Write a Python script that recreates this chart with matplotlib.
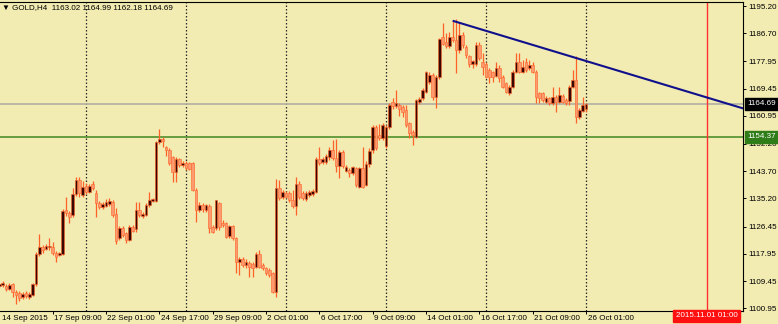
import numpy as np
import matplotlib
matplotlib.use('Agg')
import matplotlib.pyplot as plt
import matplotlib.transforms as mtransforms

# GOLD H4 candles, bar 0 = 14 Sep 2015 17:00, last bar = 26 Oct 01:00
opens = [
    1108.0, 1108.2, 1107.9, 1107.0, 1108.5, 1106.1, 1105.8, 1104.4, 1105.6, 1104.6,
    1105.1, 1108.5, 1117.8, 1120.0, 1119.6, 1120.0, 1120.2, 1118.3, 1117.6, 1117.9,
    1131.5, 1130.6, 1130.0, 1136.6, 1141.0, 1136.3, 1139.0, 1137.3, 1139.7, 1136.8,
    1133.9, 1132.7, 1133.0, 1133.5, 1134.0, 1130.3, 1122.8, 1125.9, 1124.3, 1122.3,
    1126.2, 1125.6, 1131.6, 1129.6, 1130.1, 1133.2, 1134.5, 1134.5, 1152.9, 1153.9,
    1151.1, 1150.3, 1148.0, 1143.6, 1147.4, 1145.6, 1146.2, 1146.4, 1146.2, 1137.9,
    1131.6, 1133.2, 1131.6, 1132.9, 1126.4, 1125.9, 1133.7, 1127.7, 1127.5, 1123.5,
    1126.6, 1122.8, 1115.3, 1116.3, 1114.5, 1115.2, 1114.8, 1113.9, 1117.9, 1114.5,
    1113.4, 1112.9, 1111.9, 1106.1, 1138.4, 1135.7, 1136.8, 1136.8, 1134.7, 1132.9,
    1139.7, 1137.0, 1135.0, 1136.3, 1136.6, 1137.3, 1147.4, 1146.7, 1146.7, 1148.2,
    1150.3, 1147.7, 1145.3, 1149.8, 1143.9, 1144.1, 1143.0, 1144.6, 1138.9, 1144.6,
    1139.5, 1146.0, 1150.2, 1157.5, 1155.0, 1154.0, 1151.5, 1157.6, 1165.4, 1163.9,
    1164.3, 1163.6, 1162.8, 1158.6, 1156.0, 1154.5, 1165.3, 1166.4, 1168.5, 1171.6,
    1173.7, 1166.9, 1173.2, 1185.5, 1184.1, 1182.7, 1185.6, 1184.6, 1181.5, 1186.2,
    1182.5, 1179.5, 1177.0, 1177.0, 1183.0, 1177.8, 1177.1, 1175.3, 1174.5, 1173.4,
    1175.8, 1173.2, 1171.1, 1168.0, 1170.1, 1174.7, 1177.8, 1174.7, 1177.8, 1175.8,
    1176.8, 1174.7, 1168.0, 1168.0, 1165.4, 1166.4, 1164.9, 1166.9, 1165.4, 1167.2,
    1165.9, 1165.5, 1170.1, 1172.1, 1160.5, 1162.6, 1163.02,
]
highs = [
    1109.0, 1109.6, 1108.6, 1108.8, 1109.0, 1106.8, 1106.5, 1105.9, 1106.4, 1106.0,
    1109.0, 1118.5, 1124.1, 1120.8, 1121.0, 1123.0, 1121.5, 1118.8, 1118.6, 1132.0,
    1135.6, 1131.2, 1138.4, 1141.8, 1142.0, 1140.5, 1140.0, 1139.8, 1140.6, 1138.0,
    1134.5, 1134.2, 1135.0, 1135.3, 1134.8, 1132.1, 1126.5, 1126.5, 1124.8, 1127.0,
    1127.0, 1134.2, 1134.2, 1131.0, 1133.8, 1137.3, 1135.5, 1153.2, 1156.8, 1154.5,
    1151.5, 1150.8, 1148.5, 1148.0, 1147.9, 1146.9, 1146.9, 1146.7, 1146.7, 1138.4,
    1134.2, 1133.7, 1133.5, 1133.6, 1127.0, 1134.8, 1134.2, 1128.5, 1128.0, 1127.0,
    1127.0, 1123.3, 1117.0, 1117.0, 1116.2, 1115.8, 1115.3, 1118.6, 1119.1, 1115.0,
    1113.9, 1113.4, 1112.4, 1141.2, 1141.0, 1138.0, 1137.5, 1137.5, 1137.8, 1141.8,
    1140.5, 1137.5, 1137.5, 1137.8, 1138.2, 1148.2, 1151.3, 1148.0, 1149.0, 1151.3,
    1153.4, 1153.6, 1150.3, 1150.3, 1145.6, 1144.6, 1145.4, 1145.1, 1145.1, 1151.3,
    1147.0, 1151.0, 1158.2, 1158.1, 1158.5, 1158.6, 1158.2, 1164.9, 1166.4, 1169.0,
    1165.0, 1164.2, 1164.3, 1159.0, 1156.5, 1166.3, 1166.8, 1169.5, 1174.9, 1174.5,
    1174.3, 1173.8, 1185.1, 1189.8, 1186.7, 1187.2, 1190.7, 1191.0, 1190.3, 1187.2,
    1183.0, 1180.0, 1178.5, 1184.1, 1184.0, 1180.4, 1177.8, 1175.8, 1175.0, 1177.8,
    1176.8, 1173.7, 1171.6, 1170.6, 1175.2, 1180.4, 1180.4, 1178.4, 1178.9, 1178.4,
    1177.8, 1175.2, 1168.5, 1168.5, 1167.0, 1166.9, 1170.1, 1167.4, 1170.1, 1167.8,
    1166.4, 1170.6, 1175.3, 1179.6, 1163.5, 1166.9, 1164.99,
]
lows = [
    1107.2, 1107.7, 1106.4, 1106.6, 1104.6, 1102.3, 1103.2, 1103.8, 1104.2, 1104.0,
    1104.8, 1107.9, 1117.2, 1118.2, 1119.0, 1119.2, 1117.5, 1115.5, 1117.2, 1117.5,
    1129.8, 1127.5, 1129.4, 1136.0, 1135.8, 1135.6, 1136.5, 1136.8, 1138.0, 1129.5,
    1131.8, 1132.0, 1132.5, 1133.0, 1129.5, 1121.0, 1122.3, 1123.3, 1121.4, 1121.8,
    1124.8, 1124.9, 1129.5, 1129.0, 1129.6, 1132.6, 1134.0, 1134.0, 1152.2, 1151.4,
    1148.5, 1145.6, 1140.4, 1140.4, 1145.0, 1145.0, 1144.0, 1144.1, 1137.5, 1128.0,
    1131.1, 1131.1, 1131.1, 1124.3, 1124.3, 1125.4, 1125.4, 1126.2, 1122.8, 1123.0,
    1122.3, 1111.9, 1111.4, 1113.8, 1113.5, 1110.8, 1110.8, 1113.4, 1113.4, 1112.9,
    1111.4, 1110.8, 1105.6, 1104.4, 1134.6, 1135.0, 1135.2, 1134.0, 1132.1, 1130.0,
    1135.0, 1134.6, 1134.5, 1135.8, 1136.1, 1136.8, 1145.6, 1146.0, 1146.0, 1147.2,
    1147.2, 1143.6, 1141.5, 1144.8, 1143.4, 1142.0, 1142.5, 1138.9, 1138.4, 1138.4,
    1139.0, 1145.0, 1149.5, 1150.3, 1153.3, 1153.5, 1151.0, 1157.0, 1163.2, 1163.4,
    1160.8, 1160.7, 1157.6, 1154.0, 1152.0, 1154.0, 1164.5, 1165.8, 1168.0, 1171.0,
    1165.9, 1163.3, 1172.5, 1183.0, 1182.0, 1182.2, 1184.0, 1174.2, 1180.5, 1182.0,
    1179.0, 1176.3, 1176.0, 1176.5, 1178.5, 1173.7, 1172.7, 1171.1, 1171.5, 1173.0,
    1171.6, 1169.5, 1168.0, 1167.5, 1169.6, 1174.2, 1174.2, 1174.2, 1174.7, 1175.3,
    1174.2, 1164.9, 1164.9, 1165.4, 1164.9, 1164.3, 1164.4, 1162.3, 1164.9, 1164.9,
    1164.4, 1164.4, 1169.6, 1158.6, 1160.0, 1162.1, 1162.18,
]
closes = [
    1108.5, 1108.9, 1106.9, 1108.2, 1105.9, 1105.1, 1104.1, 1105.3, 1104.8, 1105.3,
    1108.5, 1117.8, 1120.2, 1119.0, 1120.5, 1120.4, 1118.3, 1117.1, 1118.1, 1131.4,
    1130.6, 1129.5, 1136.6, 1141.0, 1136.8, 1138.9, 1137.3, 1139.1, 1138.4, 1133.7,
    1132.7, 1133.5, 1134.2, 1134.5, 1130.1, 1121.8, 1125.9, 1123.8, 1122.3, 1126.2,
    1125.2, 1131.6, 1130.1, 1130.5, 1133.2, 1134.7, 1135.0, 1152.9, 1153.9, 1153.2,
    1150.3, 1146.2, 1143.6, 1147.4, 1145.6, 1146.4, 1144.6, 1144.3, 1137.9, 1131.6,
    1133.2, 1131.8, 1133.2, 1125.9, 1124.9, 1134.7, 1126.4, 1127.0, 1123.3, 1126.6,
    1122.8, 1115.5, 1116.3, 1114.5, 1115.5, 1113.9, 1113.4, 1117.9, 1113.9, 1113.4,
    1111.9, 1111.3, 1106.1, 1138.4, 1135.2, 1137.3, 1135.8, 1134.7, 1132.9, 1139.7,
    1135.6, 1135.2, 1137.0, 1137.3, 1137.6, 1147.4, 1146.2, 1147.4, 1148.4, 1150.3,
    1147.7, 1145.3, 1149.8, 1145.3, 1145.1, 1143.0, 1144.9, 1139.4, 1144.6, 1138.9,
    1146.0, 1150.0, 1157.5, 1151.0, 1154.0, 1158.1, 1157.6, 1164.3, 1163.9, 1165.0,
    1163.0, 1162.2, 1158.1, 1155.5, 1155.0, 1165.9, 1166.1, 1169.0, 1174.7, 1173.7,
    1166.9, 1173.2, 1184.8, 1183.5, 1182.7, 1185.6, 1184.6, 1181.5, 1186.2, 1183.0,
    1180.0, 1177.0, 1178.0, 1183.0, 1178.9, 1176.3, 1173.2, 1173.2, 1173.0, 1175.8,
    1172.7, 1170.1, 1168.5, 1170.1, 1174.7, 1177.8, 1174.7, 1176.3, 1175.2, 1176.8,
    1174.7, 1166.9, 1166.4, 1165.9, 1166.4, 1164.9, 1166.9, 1165.4, 1167.5, 1165.4,
    1164.9, 1170.1, 1172.1, 1160.7, 1162.8, 1164.3, 1164.69,
]

time_labels = ['14 Sep 2015', '17 Sep 09:00', '22 Sep 01:00', '24 Sep 17:00',
               '29 Sep 09:00', '2 Oct 01:00', '6 Oct 17:00', '9 Oct 09:00',
               '14 Oct 01:00', '16 Oct 17:00', '21 Oct 09:00', '26 Oct 01:00']
label_bars = [0, 16, 32, 48, 64, 80, 96, 112, 128, 144, 160, 176]
week_bars = [26, 56, 86, 116, 146, 176]
price_ticks = [1100.95, 1109.45, 1117.95, 1126.45, 1135.20, 1143.70,
               1152.20, 1160.95, 1169.45, 1177.95, 1186.70, 1195.20]
level_price = 1154.37
trend_start = (136, 1190.6)
trend_end = (173, 1179.0)
future_bar = 212.2
future_label = '2015.11.01 01:00'

BG = '#f2ebb2'
WICK = '#ff6228'
BULL = '#3a0600'
BEAR = '#fc9a70'
FONT = ['Liberation Sans', 'DejaVu Sans']
FS = 5.8

o = np.array(opens); h = np.array(highs); l = np.array(lows); c = np.array(closes)
x = np.arange(len(o))

fig = plt.figure(figsize=(7.78, 3.24), dpi=100, facecolor=BG)
ax = fig.add_axes([0, 13 / 324, 743 / 778, 309 / 324], facecolor=BG)

# candles
ax.vlines(x, l, h, color=WICK, lw=0.9, zorder=2)
body_lo = np.minimum(o, c)
body_h = np.maximum(np.abs(c - o), 0.15)
cols = np.where(c >= o, BULL, BEAR)
ax.bar(x, body_h, bottom=body_lo, width=0.8, color=cols, edgecolor=WICK,
       linewidth=0.4, zorder=3)

# week separators, levels, trend line
for wb in week_bars:
    ax.axvline(wb, color='#2a2a2a', lw=0.9, ls=(0, (1.2, 1.6)), zorder=1)
ax.axhline(c[-1], color='#b0b0a4', lw=1.2, zorder=1)
ax.axhline(level_price, color='#4f8f2c', lw=1.2, zorder=1)
ax.axvline(future_bar, color='#ff3030', lw=1.0, zorder=1)

slope = (trend_end[1] - trend_start[1]) / (trend_end[0] - trend_start[0])
x_end = 230
ax.plot([trend_start[0], x_end],
        [trend_start[1], trend_start[1] + slope * (x_end - trend_start[0])],
        color='#10108c', lw=1.5, zorder=4, solid_capstyle='butt')

ax.set_xlim(0.2, 223.1)
ax.set_ylim(1100.13, 1196.45)

for s in ['top', 'right', 'bottom']:
    ax.spines[s].set_color('black')
    ax.spines[s].set_linewidth(0.8)
ax.spines['left'].set_visible(False)

ax.yaxis.tick_right()
ax.set_yticks(price_ticks)
ax.set_yticklabels([f'{p:.2f}' for p in price_ticks])
ax.tick_params(axis='y', direction='out', length=2.2, width=0.7, pad=1.5,
               labelsize=FS, colors='black')

ax.set_xticks(label_bars[1:])
ax.set_xticklabels(time_labels[1:])
ax.tick_params(axis='x', direction='out', length=2.2, width=0.7, pad=0.8,
               labelsize=FS, colors='black')
shift = mtransforms.ScaledTranslation(1.5 / 100, 0, fig.dpi_scale_trans)
for lbl in ax.get_xticklabels() + ax.get_yticklabels():
    lbl.set_fontfamily(FONT)
for lbl in ax.get_xticklabels():
    lbl.set_horizontalalignment('left')
    lbl.set_transform(lbl.get_transform() + shift)

ax.annotate(time_labels[0], xy=(0, 0), xycoords='axes fraction',
            xytext=(1.2, -3.0), textcoords='offset points', ha='left', va='top',
            fontsize=FS, family=FONT, color='black', annotation_clip=False)

# price boxes on the right axis
ax.annotate(f'{c[-1]:.2f}', xy=(1, c[-1]), xycoords=('axes fraction', 'data'),
            xytext=(3.4, 0), textcoords='offset points', ha='left', va='center',
            fontsize=FS, family=FONT, color='white', zorder=6,
            bbox=dict(boxstyle='square,pad=0.3', fc='black', ec='black'),
            annotation_clip=False)
ax.annotate(f'{level_price:.2f}', xy=(1, level_price), xycoords=('axes fraction', 'data'),
            xytext=(3.4, 0), textcoords='offset points', ha='left', va='center',
            fontsize=FS, family=FONT, color='white', zorder=6,
            bbox=dict(boxstyle='square,pad=0.3', fc='#2f7d18', ec='#2f7d18'),
            annotation_clip=False)
ax.annotate(future_label, xy=(future_bar, 0), xycoords=('data', 'axes fraction'),
            xytext=(0, -0.8), textcoords='offset points', ha='center', va='top',
            fontsize=FS, family=FONT, color='white', zorder=6,
            bbox=dict(boxstyle='square,pad=0.3', fc='#ff1010', ec='#ff1010'),
            annotation_clip=False)

# header
fig.text(2 / 778, 1 - 7.5 / 324,
         f'\u25bc GOLD,H4  {o[-1]:.2f} {h[-1]:.2f} {l[-1]:.2f} {c[-1]:.2f}',
         ha='left', va='center', fontsize=FS, family=FONT, color='black')

fig.savefig('out.png', dpi=100, facecolor=BG)
